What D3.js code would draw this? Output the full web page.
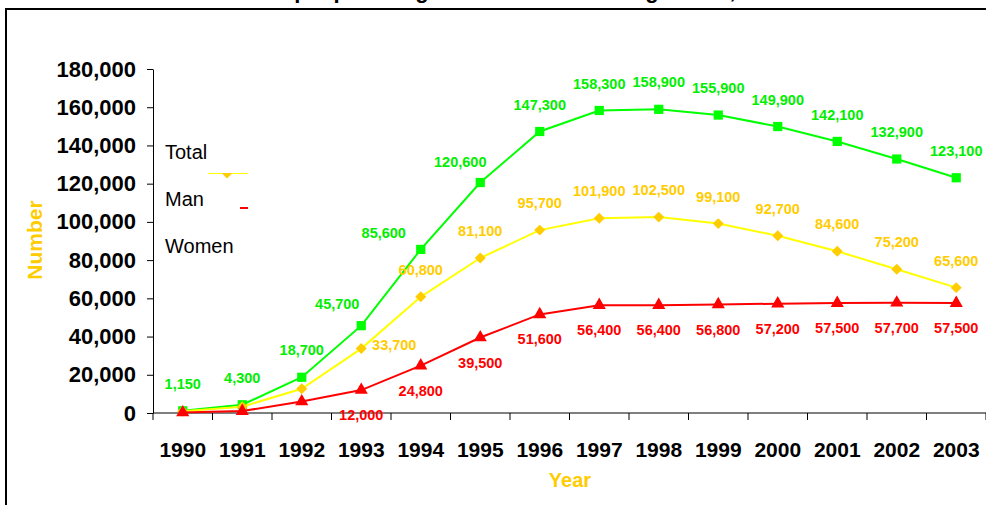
<!DOCTYPE html>
<html>
<head>
<meta charset="utf-8">
<script src="https://cdn.jsdelivr.net/npm/d3@7"></script>
<style>
  body { margin: 0; background: #fff; }
  svg { display: block; font-family: Arial, "Liberation Sans", sans-serif; }
</style>
</head>
<body>
<div id="chart"></div>
<script>
const years = [1990, 1991, 1992, 1993, 1994, 1995, 1996, 1997, 1998, 1999, 2000, 2001, 2002, 2003];
const total = [1150, 4300, 18700, 45700, 85600, 120600, 147300, 158300, 158900, 155900, 149900, 142100, 132900, 123100];
const man = [900, 3300, 12700, 33700, 60800, 81100, 95700, 101900, 102500, 99100, 92700, 84600, 75200, 65600];
const women = [250, 1000, 6000, 12000, 24800, 39500, 51600, 56400, 56400, 56800, 57200, 57500, 57700, 57500];
const yTicks = [0, 20000, 40000, 60000, 80000, 100000, 120000, 140000, 160000, 180000];
const seriesNames = ["Total", "Man", "Women"];

const W = 986, H = 505;
const svg = d3.select("#chart").append("svg").attr("width", W).attr("height", H);

// outer frame (runs off the right and bottom edges)
svg.append("rect")
  .attr("x", 6).attr("y", 9).attr("width", 1000).attr("height", 520)
  .attr("fill", "none").attr("stroke", "#000").attr("stroke-width", 2);

// title, mostly cut off at the top like the original
svg.append("text")
  .attr("x", 515).attr("y", -2)
  .attr("text-anchor", "middle")
  .style("font-weight", "bold").style("font-size", "22px")
  .text("Estimated people living with HIV/AIDS among adults, 1990-2003");

const x = d3.scaleBand().domain(years).range([153, 986]).padding(0);
const y = d3.scaleLinear().domain([0, 180000]).range([413, 69]);
const cx = (d) => x(d) + x.bandwidth() / 2;

// y axis
const yAxis = svg.append("g")
  .attr("transform", "translate(153,0)")
  .call(d3.axisLeft(y).tickValues(yTicks).tickFormat(d3.format(",")).tickSize(6).tickSizeOuter(0));
yAxis.select(".domain").attr("stroke", "#000");
yAxis.selectAll("text")
  .attr("x", -17)
  .style("font-size", "22px").style("font-weight", "bold").attr("fill", "#000");

// x axis with ticks at category boundaries
const xAxis = svg.append("g").attr("transform", "translate(0,413)");
xAxis.append("line")
  .attr("x1", 153).attr("x2", 986).attr("stroke", "#000");
xAxis.selectAll("line.tick")
  .data(years.concat(["end"]))
  .join("line")
  .attr("class", "tick")
  .attr("x1", (d) => d === "end" ? 986 : x(d))
  .attr("x2", (d) => d === "end" ? 986 : x(d))
  .attr("y1", 0).attr("y2", 7).attr("stroke", "#000");
xAxis.selectAll("text")
  .data(years)
  .join("text")
  .attr("x", cx).attr("y", 44)
  .attr("text-anchor", "middle")
  .style("font-size", "21px").style("font-weight", "bold")
  .text((d) => d);

// axis titles
svg.append("text")
  .attr("x", 570).attr("y", 487)
  .attr("text-anchor", "middle")
  .attr("fill", "#FFCC00")
  .style("font-size", "20px").style("font-weight", "bold")
  .text("Year");
svg.append("text")
  .attr("transform", "translate(42,240) rotate(-90)")
  .attr("text-anchor", "middle")
  .attr("fill", "#FFCC00")
  .style("font-size", "21px").style("font-weight", "bold")
  .text("Number");

// square rotated 45deg = the flat Excel diamond
const series = [
  { name: "Total", values: total, line: "#00FF00", mark: "#00FF00", label: "#00EE00", symbol: d3.symbolSquare, size: 85, rot: 0, dy: -27, skip: [] },
  { name: "Man", values: man, line: "#FFFF00", mark: "#FFCC00", label: "#FFCC00", symbol: d3.symbolSquare, size: 60, rot: 45, dy: -27, skip: [1990, 1991, 1992] },
  { name: "Women", values: women, line: "#FF0000", mark: "#FF0000", label: "#FF0000", symbol: d3.symbolTriangle, size: 75, rot: 0, dy: 25, skip: [1990, 1991, 1992] }
];

// manual nudges for labels that were dragged aside in the original
const nudge = {
  "Total-1993": [-24, 5], "Total-1994": [-37, 11], "Total-1995": [-20, 6],
  "Man-1993": [33, 23]
};

const line = d3.line().x((d) => cx(d.year)).y((d) => y(d.v));

series.forEach((s) => {
  const pts = years.map((yr, i) => ({ year: yr, v: s.values[i] }));
  const g = svg.append("g");
  g.append("path")
    .attr("d", line(pts))
    .attr("fill", "none")
    .attr("stroke", s.line)
    .attr("stroke-width", 2);
  g.selectAll("path.m")
    .data(pts)
    .join("path")
    .attr("class", "m")
    .attr("transform", (d) => `translate(${cx(d.year)},${y(d.v)}) rotate(${s.rot})`)
    .attr("d", d3.symbol().type(s.symbol).size(s.size))
    .attr("fill", s.mark);
  g.selectAll("text")
    .data(pts.filter((d) => !s.skip.includes(d.year)))
    .join("text")
    .attr("x", (d) => cx(d.year) + (nudge[s.name + "-" + d.year] || [0, 0])[0])
    .attr("y", (d) => y(d.v) + s.dy + (nudge[s.name + "-" + d.year] || [0, 0])[1])
    .attr("dy", "0.35em")
    .attr("text-anchor", "middle")
    .attr("fill", s.label)
    .style("font-size", "14.5px").style("font-weight", "bold")
    .text((d) => d3.format(",")(d.v));
});

// legend box sitting over the y axis
const leg = svg.append("g");
leg.append("rect")
  .attr("x", 154).attr("y", 130).attr("width", 94).attr("height", 136)
  .attr("fill", "#fff");
leg.selectAll("text")
  .data(seriesNames)
  .join("text")
  .attr("x", 165)
  .attr("y", (d, i) => 159 + i * 47)
  .style("font-size", "20px")
  .attr("fill", "#000")
  .text((d) => d);
const clip = svg.append("defs").append("clipPath").attr("id", "legclip");
clip.append("rect").attr("x", 154).attr("y", 173).attr("width", 94).attr("height", 40);
const legMarks = leg.append("g").attr("clip-path", "url(#legclip)");
legMarks.append("line")
  .attr("x1", 208).attr("x2", 248).attr("y1", 173).attr("y2", 173)
  .attr("stroke", series[1].line).attr("stroke-width", 2);
legMarks.append("path")
  .attr("transform", "translate(227,173) rotate(45)")
  .attr("d", d3.symbol().type(series[1].symbol).size(series[1].size))
  .attr("fill", series[1].mark);
legMarks.append("line")
  .attr("x1", 240).attr("x2", 248).attr("y1", 208).attr("y2", 208)
  .attr("stroke", series[2].line).attr("stroke-width", 2);
</script>
</body>
</html>
